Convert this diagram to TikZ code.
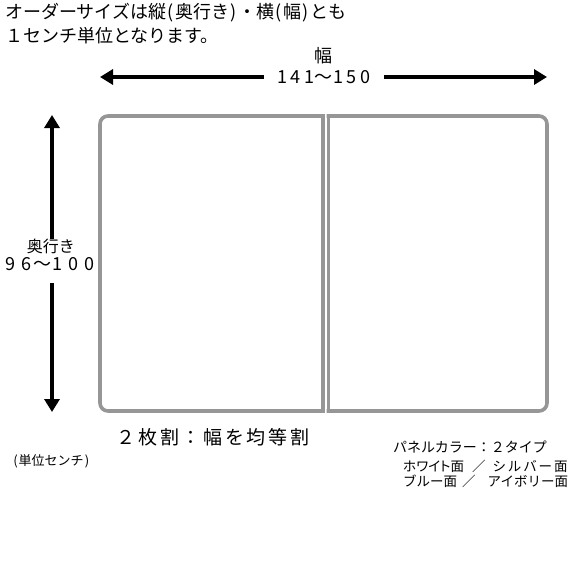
\documentclass[tikz,border=0pt]{standalone}
\usepackage{fontspec}
\setmainfont{Noto Sans CJK JP}
\newfontfamily\widejp[LetterSpace=14]{Noto Sans CJK JP}
\newfontfamily\propjp[RawFeature=+palt]{Noto Sans CJK JP}
\newfontfamily\spacedjp[LetterSpace=14]{Noto Sans CJK JP}
\usetikzlibrary{arrows.meta}
\definecolor{panelgray}{RGB}{150,150,150}
\newcommand{\hparen}[1]{\makebox[0.5em][c]{#1}}
\newlength{\cellw}
\newcommand{\cell}[1]{\makebox[\cellw][c]{#1}}
\begin{document}
\begin{tikzpicture}[x=1pt,y=-1pt,
  txt/.style={inner sep=0pt, text=black},
  dimline/.style={line width=4pt, -{Triangle[length=13pt,width=15pt]}},
  panel/.style={draw=panelgray, line width=3.6pt, line cap=rect}]
\useasboundingbox[fill=white] (0,0) rectangle (570,570);
% top note
\node[txt, anchor=west, font=\fontsize{18}{20}\selectfont] (t1) at (5,13)
  {オーダーサイズは縦\hparen{(}奥行き\hparen{)}・横\hparen{(}幅\hparen{)}とも};
\node[txt, anchor=west, font=\fontsize{18}{20}\selectfont] (t2) at (5,36)
  {１センチ単位となります。};
% width dimension
\node[txt, font=\fontsize{18}{20}\selectfont] (wtitle) at (323,56) {幅};
\node[txt, inner xsep=11pt, font=\fontsize{18}{20}\selectfont] (wlab) at (324,77)
  {\setlength{\cellw}{14pt}\cell{1}\cell{4}\cell{1}\cell{～}\cell{1}\cell{5}\cell{0}};
\coordinate (wL) at (100,77);
\coordinate (wR) at (547,77);
\draw[dimline] (wlab.west |- wL) -- (wL);
\draw[dimline] (wlab.east |- wR) -- (wR);
% depth dimension
\node[txt, font=\fontsize{16}{18}\selectfont] (dlab1) at (51,246) {奥行き};
\node[txt, font=\fontsize{18}{20}\selectfont] (dlab2) at (50,264)
  {\setlength{\cellw}{15.7pt}\cell{9}\cell{6}\cell{～}\cell{1}\cell{0}\cell{0}};
\coordinate (dTs) at (52,239);
\coordinate (dT) at (52,115);
\coordinate (dBs) at (52,283);
\coordinate (dB) at (52,412);
\draw[dimline] (dTs) -- (dT);
\draw[dimline] (dBs) -- (dB);
% panels
\draw[panel, rounded corners=8pt] (323,411) -- (100,411) -- (100,116) -- (323,116);
\draw[panel] (323,116) -- (323,411);
\draw[panel, rounded corners=8pt] (328.5,116) -- (547,116) -- (547,411) -- (328.5,411);
\draw[panel] (328.5,116) -- (328.5,411);
% captions
\node[txt, font=\widejp\fontsize{19}{21}\selectfont] (split) at (213,437) {２枚割：幅を均等割};
\node[txt, anchor=west, font=\fontsize{13}{15}\selectfont] (unit) at (12,461) {\hparen{(}単位センチ\hparen{)}};
\node[txt, anchor=west, font=\fontsize{14}{16}\selectfont] (c1) at (393,447) {パネルカラー：２タイプ};
\node[txt, anchor=west, font=\fontsize{13.5}{15}\selectfont] (c2) at (403,466)
  {{\propjp ホワイト}面\hspace{8pt}／\hspace{7pt}{\spacedjp シルバー面}};
\node[txt, anchor=west, font=\fontsize{13.5}{15}\selectfont] (c3) at (403,481)
  {ブルー面\hspace{5pt}／\hspace{12pt}アイボリー面};
\end{tikzpicture}
\end{document}
